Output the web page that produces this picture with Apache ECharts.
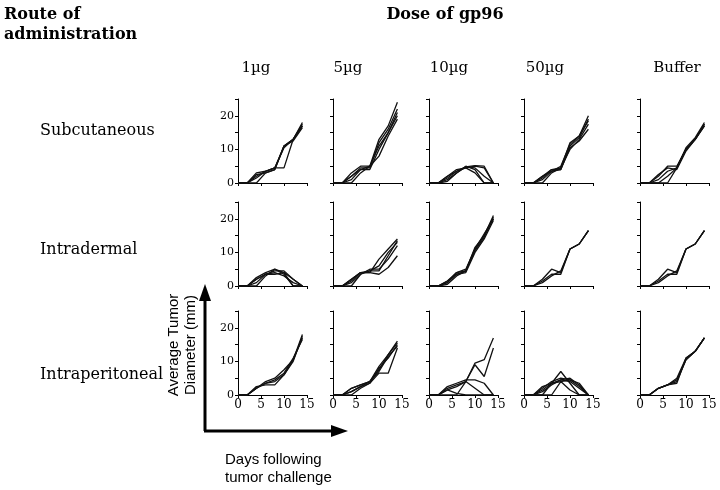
<!DOCTYPE html>
<html><head><meta charset="utf-8">
<script src="https://cdn.jsdelivr.net/npm/echarts@6/dist/echarts.min.js"></script>
<style>html,body{margin:0;padding:0;background:#fff}#c{width:720px;height:490px}</style>
</head><body><div id="c"></div>
<script>
const days = [0, 2, 4, 6, 8, 10, 12, 14];
const doses = ['1\u00b5g', '5\u00b5g', '10\u00b5g', '50\u00b5g', 'Buffer'];
const routes = ['Subcutaneous', 'Intradermal', 'Intraperitoneal'];
const yLabelTicks = [0, 10, 20];

// Subcutaneous
const sc1 = [[0,0,3,3.5,4.5,11,13,18],[0,0,2,3.5,4.5,4.5,13,17],[0,0,0,3,4,11,12.5,16.5],[0,0,2.5,3,4,11,13,17.5],[0,0,1.5,3.5,4.5,10.5,13,17]];
const sc5 = [[0,0,3,5,5,13,17,24],[0,0,2,4.5,4.5,12,16,22],[0,0,0,3,5,11,15,21],[0,0,1,4,4,10,15,20],[0,0,2,4,5,8,14,19]];
const sc10 = [[0,0,1.5,3.5,4.8,4.5,2,0],[0,0,2,3.5,4.5,5,4.5,0],[0,0,0.5,3,4.8,5.2,5,0],[0,0,1,3,5,4,0,0],[0,0,2,4,4.5,3,0,0]];
const sc50 = [[0,0,2,4,4.5,12,14,20],[0,0,1,3.5,4,11,13.5,19],[0,0,0,3,4.5,10,13,17.5],[0,0,1.5,4,4,10.5,12.5,16],[0,0,2,3.5,5,11.5,14,18.5]];
const scBuf = [[0,0,2,5,5,10,13,17.5],[0,0,1,3.5,4.5,10,13,17],[0,0,0,2,4.5,10.5,13.5,18],[0,0,2.5,4.5,4,9.5,13,17.5],[0,0,0,0,4.5,10,13,17]];
// Intradermal
const id1 = [[0,0,2.5,4,5,3.5,0,0],[0,0,2,3.5,4.5,4.5,2,0],[0,0,0,3,5,4,0,0],[0,0,1,3.5,4,3,1,0],[0,0,2,3.5,3.5,4,2,0]];
const id5 = [[0,0,2,4,4,8,11,14],[0,0,1,3.5,4.5,6,10,13],[0,0,0,3.5,5,5,8,12],[0,0,2,4,4,3.5,5.5,9],[0,0,1.5,4,4.5,4.5,9,13.5]];
const id10 = [[0,0,1.5,4,5,11,15,21],[0,0,1,3.5,4.5,10.5,14.5,20],[0,0,0.5,3,4.5,11.5,15,20.5],[0,0,1.5,3.5,4,10,14,19.5],[0,0,1,4,4.5,11,15.5,20]];
const id50 = [[0,0,2,5,4,11,12.5,16.5],[0,0,1.5,3.5,3.5,11,12.5,16.5],[0,0,1,3,4.5,11,12.5,16.5]];
const idBuf = [[0,0,2,5,4,11,12.5,16.5],[0,0,1.5,3.5,3.5,11,12.5,16.5],[0,0,1,3,4.5,11,12.5,16.5]];
// Intraperitoneal
const ip1 = [[0,0,2,4,5,7.5,10.5,18],[0,0,2,3.5,4,6,10.5,17],[0,0,2.5,3,3,6,10,17.5],[0,0,2,3.5,4.5,6.5,11,16.5]];
const ip5 = [[0,0,2,3,4,7.5,12,16],[0,0,1,2.5,3.5,6.5,6.5,14],[0,0,0,2,3.5,8,11,15],[0,0,2,3,4,7,11.5,14.5],[0,0,1,2.5,4,8.5,12,15.5]];
const ip10 = [[0,0,2,3,4,9.5,10.5,17],[0,0,1.5,2.5,4,9,5.5,14],[0,0,2.5,3.5,4.5,4.5,3.5,0],[0,0,0,0,4,2,0,0],[0,0,1.5,0.5,0,0,0,0]];
const ip50 = [[0,0,0,3.5,7,3.5,0,0],[0,0,1.5,3.5,4.5,5,3,0],[0,0,2,4,5,4.5,2.5,0],[0,0,1,3,4.5,4,2,0],[0,0,0,0,4,1.5,0,0],[0,0,2.5,3.5,4,4.5,3.5,0]];
const ipBuf = [[0,0,2,3,5,11,13,17],[0,0,2,3,4.5,10.5,13,17],[0,0,2,3,4,10.5,13,17],[0,0,2,3,3.5,11,13,17]];

const panels = [
  [sc1, sc5, sc10, sc50, scBuf],
  [id1, id5, id10, id50, idBuf],
  [ip1, ip5, ip10, ip50, ipBuf]
];

const colX = [238, 333, 429, 524, 640];
const rowY = [99, 202, 311];
const PW = 69, PH = 84;
const serif = '"DejaVu Serif", serif';
const sans = '"Liberation Sans", Arial, sans-serif';

const grid = [], xAxis = [], yAxis = [], series = [];
let gi = 0;
for (let r = 0; r < 3; r++) {
  for (let c = 0; c < 5; c++) {
    grid.push({left: colX[c], top: rowY[r], width: PW, height: PH});
    xAxis.push({
      type: 'value', gridIndex: gi, min: 0, max: 15, interval: 5,
      axisLine: {show: true, lineStyle: {color: '#000', width: 1}},
      axisTick: {show: true, length: 3, lineStyle: {color: '#000'}},
      axisLabel: {show: r === 2, color: '#000', fontFamily: serif, fontSize: 12, margin: 4},
      splitLine: {show: false}
    });
    yAxis.push({
      type: 'value', gridIndex: gi, min: 0, max: 25, interval: 5,
      axisLine: {show: true, lineStyle: {color: '#000', width: 1}},
      axisTick: {show: true, length: 3, lineStyle: {color: '#000'}},
      axisLabel: {show: c === 0, color: '#000', fontFamily: serif, fontSize: 11, margin: 4,
        formatter: v => yLabelTicks.indexOf(v) >= 0 ? String(v) : ''},
      splitLine: {show: false}
    });
    panels[r][c].forEach(line => {
      series.push({
        type: 'line', xAxisIndex: gi, yAxisIndex: gi,
        data: days.map((d, i) => [d, line[i]]),
        symbol: 'none', silent: true,
        lineStyle: {color: '#111', width: 1.3}
      });
    });
    gi++;
  }
}

const graphic = [
  {type: 'text', left: 4, top: 7, style: {text: 'Route of', font: 'bold 16px ' + serif, fill: '#000'}},
  {type: 'text', left: 4, top: 27, style: {text: 'administration', font: 'bold 16px ' + serif, fill: '#000'}},
  {type: 'text', x: 445, y: 15, style: {text: 'Dose of gp96', font: 'bold 16px ' + serif, fill: '#000', textAlign: 'center', textVerticalAlign: 'middle'}},
  {type: 'text', x: 40, y: 131, style: {text: routes[0], font: '16px ' + serif, fill: '#000', textVerticalAlign: 'middle'}},
  {type: 'text', x: 40, y: 250, style: {text: routes[1], font: '16px ' + serif, fill: '#000', textVerticalAlign: 'middle'}},
  {type: 'text', x: 40, y: 375, style: {text: routes[2], font: '16px ' + serif, fill: '#000', textVerticalAlign: 'middle'}},
  // axis arrows
  {type: 'line', shape: {x1: 205, y1: 431, x2: 205, y2: 298}, style: {stroke: '#000', lineWidth: 3}},
  {type: 'polygon', shape: {points: [[205, 284], [199, 301], [211, 301]]}, style: {fill: '#000'}},
  {type: 'line', shape: {x1: 204, y1: 431, x2: 334, y2: 431}, style: {stroke: '#000', lineWidth: 3}},
  {type: 'polygon', shape: {points: [[348, 431], [331, 425], [331, 437]]}, style: {fill: '#000'}},
  {type: 'text', x: 182, y: 345, rotation: Math.PI / 2,
    style: {text: 'Average Tumor\nDiameter (mm)', font: '15px ' + sans, fill: '#000', textAlign: 'center', textVerticalAlign: 'middle', lineHeight: 17}},
  {type: 'text', left: 225, top: 451, style: {text: 'Days following\ntumor challenge', font: '15px ' + sans, fill: '#000', lineHeight: 18}}
];
const colCenters = [256, 348, 449, 545, 677];
doses.forEach((d, i) => graphic.push({type: 'text', x: colCenters[i], y: 68,
  style: {text: d, font: '15px ' + serif, fill: '#000', textAlign: 'center', textVerticalAlign: 'middle'}}));

const chart = echarts.init(document.getElementById('c'), null, {renderer: 'canvas'});
chart.setOption({animation: false, grid, xAxis, yAxis, series, graphic});
</script></body></html>
